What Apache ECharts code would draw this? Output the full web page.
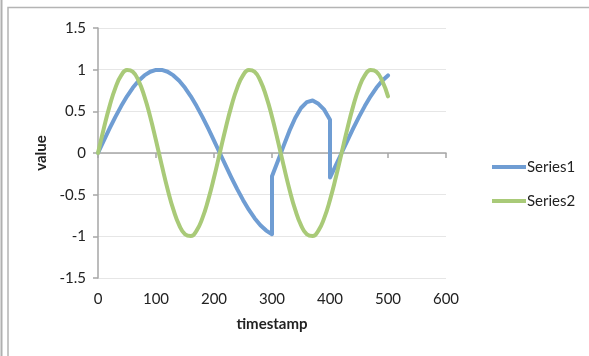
<!DOCTYPE html>
<html>
<head>
<meta charset="utf-8">
<script src="https://cdn.jsdelivr.net/npm/echarts@6/dist/echarts.min.js"></script>
<style>
html,body{margin:0;padding:0;background:#fff;}
#chart{width:589px;height:356px;}
</style>
</head>
<body>
<div id="chart"></div>
<script>
// ---- data ----
const xTicks = [0, 100, 200, 300, 400, 500, 600];
const yTicks = [-1.5, -1, -0.5, 0, 0.5, 1, 1.5];
const seriesNames = ['Series1', 'Series2'];

// Series1: three segments, with vertical jumps at 300 and 400
const s1X = [0,10,20,30,40,50,60,70,80,90,100,110,120,130,140,150,160,170,180,190,200,210,220,230,240,250,260,270,280,290,300,
             300,310,320,330,340,350,360,370,380,390,400,
             400,410,420,430,440,450,460,470,480,490,500];
const s1Y = [0,0.149,0.295,0.434,0.563,0.680,0.782,0.866,0.931,0.975,0.997,0.997,0.975,0.931,0.866,0.782,0.680,0.563,0.434,0.295,0.149,0,-0.149,-0.295,-0.434,-0.563,-0.680,-0.782,-0.866,-0.931,-0.975,
             -0.28,-0.10,0.085,0.265,0.42,0.54,0.61,0.63,0.59,0.52,0.40,
             -0.295,-0.149,0,0.149,0.295,0.434,0.563,0.680,0.782,0.866,0.931];

// Series2
const s2X = [0,10,20,30,40,50,60,70,80,90,100,110,120,130,140,150,160,170,180,190,200,210,220,230,240,250,260,270,280,290,300,310,320,330,340,350,360,370,380,390,400,410,420,430,440,450,460,470,480,490,500];
const s2Y = [0,0.295,0.563,0.782,0.931,0.997,0.975,0.866,0.680,0.434,0.149,-0.149,-0.434,-0.680,-0.866,-0.975,-0.997,-0.931,-0.782,-0.563,-0.295,0,0.295,0.563,0.782,0.931,0.997,0.975,0.866,0.680,0.434,0.149,-0.149,-0.434,-0.680,-0.866,-0.975,-0.997,-0.931,-0.782,-0.563,-0.295,0,0.295,0.563,0.782,0.931,0.997,0.975,0.866,0.680];

// ---- chart ----
const FONT = 'Lato';
const s1 = s1X.map((x, i) => [x, s1Y[i]]);
const s2 = s2X.map((x, i) => [x, s2Y[i]]);
const chart = echarts.init(document.getElementById('chart'), null, {renderer: 'canvas'});
const axisGray = '#a6a6a6';
const c1 = '#6f9dd3', c2 = '#a9ca78';
chart.setOption({
  animation: false,
  backgroundColor: '#ffffff',
  textStyle: {fontFamily: FONT},
  grid: {left: 98, right: 143, top: 28, bottom: 78, containLabel: false},
  graphic: [
    {type: 'line', shape: {x1: 1.5, y1: 0, x2: 1.5, y2: 356}, style: {stroke: '#b0b0b0', lineWidth: 2}, silent: true},
    {type: 'rect', shape: {x: 8, y: 7.5, width: 600, height: 400}, style: {fill: null, stroke: '#b4b4b4', lineWidth: 1.5}, silent: true}
  ],
  xAxis: [
    {
      type: 'value', min: xTicks[0], max: xTicks[xTicks.length - 1], interval: 100,
      position: 'bottom',
      axisLine: {show: false, onZero: false},
      axisTick: {show: false},
      splitLine: {show: false},
      axisLabel: {color: '#222', fontSize: 15, fontFamily: FONT, margin: 14},
      name: 'timestamp', nameLocation: 'middle', nameGap: 39,
      nameTextStyle: {color: '#222', fontSize: 15, fontWeight: 'bold', fontFamily: FONT}
    },
    {
      type: 'value', min: xTicks[0], max: xTicks[xTicks.length - 1], interval: 100,
      position: 'bottom',
      axisLine: {show: true, onZero: true, lineStyle: {color: axisGray, width: 1.5}},
      axisTick: {show: true, length: 5, lineStyle: {color: axisGray, width: 1.5}},
      axisLabel: {show: false},
      splitLine: {show: false}
    }
  ],
  yAxis: {
    type: 'value', min: yTicks[0], max: yTicks[yTicks.length - 1], interval: 0.5,
    axisLine: {show: true, onZero: false, lineStyle: {color: axisGray, width: 1.5}},
    axisTick: {show: true, length: 5, lineStyle: {color: axisGray, width: 1.5}},
    splitLine: {show: true, lineStyle: {color: '#e6e6e6', width: 1}},
    axisLabel: {color: '#222', fontSize: 15, fontFamily: FONT, margin: 12},
    name: 'value', nameLocation: 'middle', nameGap: 44,
    nameTextStyle: {color: '#222', fontSize: 15, fontWeight: 'bold', fontFamily: FONT}
  },
  legend: {
    orient: 'vertical', left: 487, top: 153,
    icon: 'rect', itemWidth: 34, itemHeight: 4, itemGap: 16,
    textStyle: {color: '#222', fontSize: 15, fontFamily: FONT, lineHeight: 18, padding: [0, 0, 0, -4]},
    data: seriesNames
  },
  series: [
    {name: seriesNames[0], type: 'line', xAxisIndex: 0, data: s1, symbol: 'none', smooth: false,
     lineStyle: {color: c1, width: 4, cap: 'round', join: 'round'}, itemStyle: {color: c1}},
    {name: seriesNames[1], type: 'line', xAxisIndex: 0, data: s2, symbol: 'none', smooth: 0.5,
     lineStyle: {color: c2, width: 4, cap: 'round', join: 'round'}, itemStyle: {color: c2}}
  ]
});
</script>
</body>
</html>
